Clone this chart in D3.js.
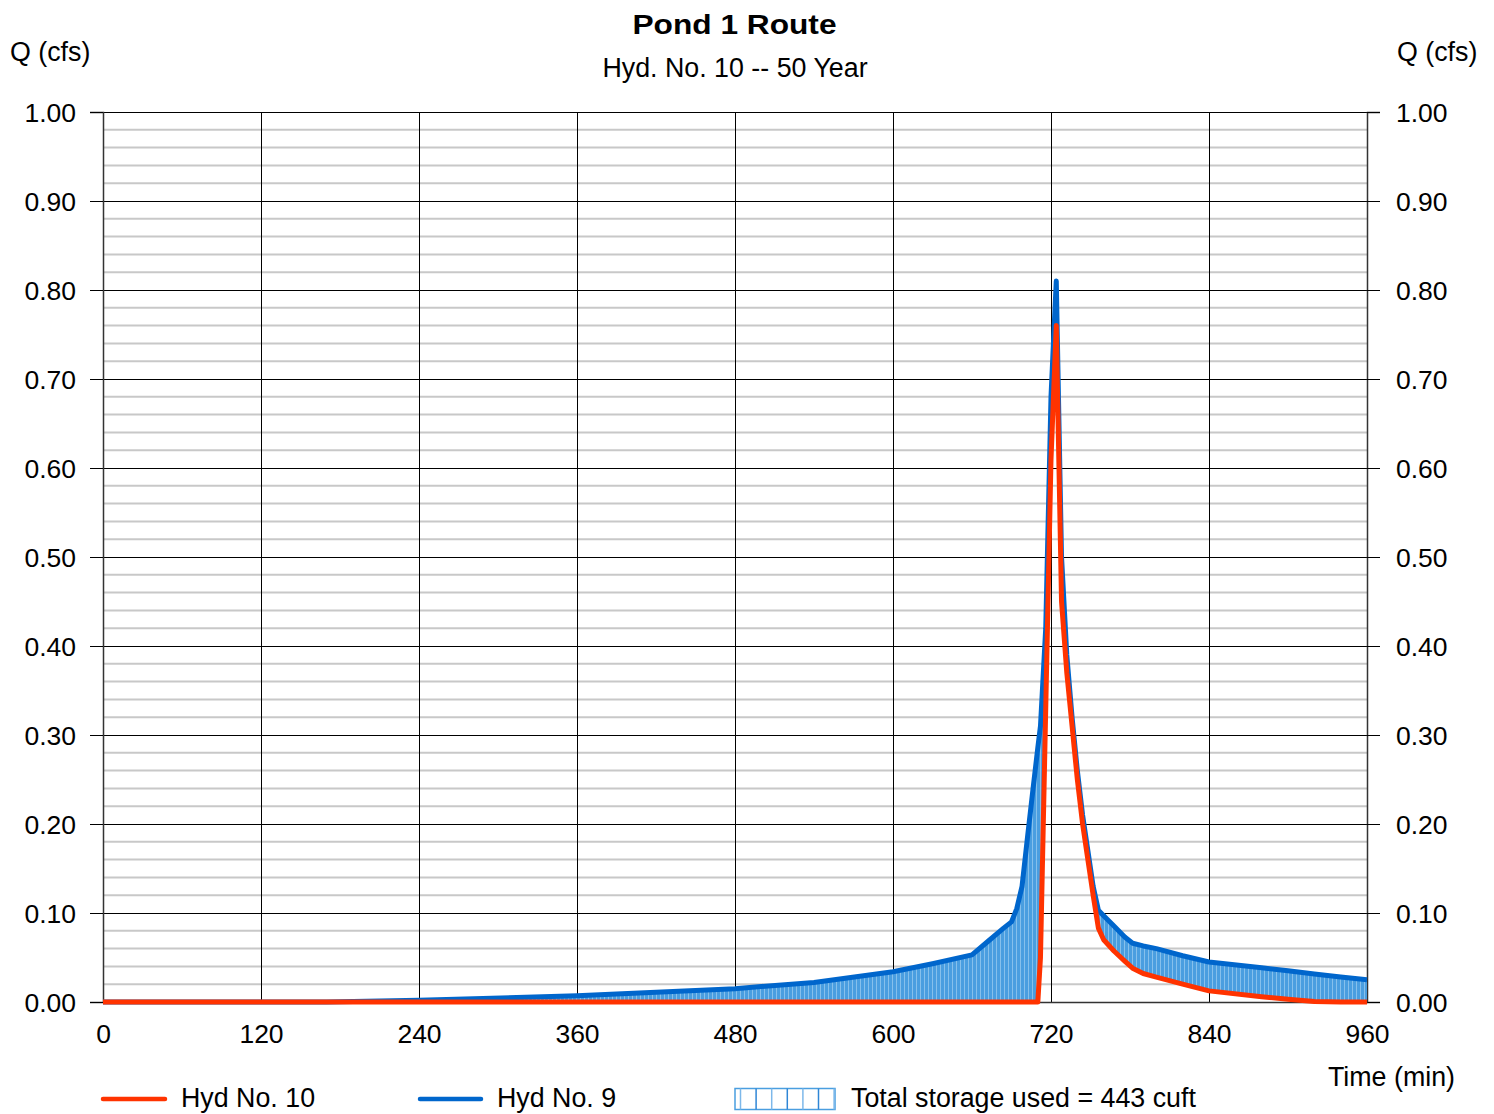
<!DOCTYPE html>
<html>
<head>
<meta charset="utf-8">
<script src="https://cdn.jsdelivr.net/npm/d3@7"></script>
<style>
  html, body { margin: 0; padding: 0; background: #fff; }
  svg { display: block; font-family: "Liberation Sans", Arial, sans-serif; }
</style>
</head>
<body>
<svg id="chart" width="1494" height="1114"></svg>
<script>
// Hydrograph time steps (min)
const timeMin = [0, 120, 170, 240, 360, 480, 540, 600, 630, 660, 672, 684, 690, 694, 698, 702, 706, 710, 712, 716,
  720, 724, 728, 732, 736, 740, 744, 748, 752, 756, 760, 768, 776, 782, 790, 800, 820, 840, 880, 900, 920, 940, 960];

// Hyd No. 9 – inflow to the pond (cfs)
const inflowQ = [0, 0, 0, 0.002, 0.007, 0.015, 0.022, 0.034, 0.043, 0.053, 0.068, 0.083, 0.090, 0.105, 0.130, 0.183, 0.235, 0.286, 0.31, 0.42,
  0.68, 0.81, 0.50, 0.39, 0.32, 0.26, 0.21, 0.17, 0.13, 0.103, 0.097, 0.085, 0.073, 0.066, 0.063, 0.060, 0.052, 0.045, 0.0385, 0.035, 0.0315, 0.028, 0.025];

// Hyd No. 10 – routed outflow (cfs)
const outflowQ = [0, 0, 0, 0, 0, 0, 0, 0, 0, 0, 0, 0, 0, 0, 0, 0, 0, 0, 0.05, 0.33,
  0.61, 0.76, 0.45, 0.37, 0.31, 0.25, 0.20, 0.16, 0.12, 0.083, 0.070, 0.057, 0.046, 0.038, 0.032, 0.028, 0.020, 0.0125, 0.006, 0.003, 0.0005, 0, 0];

const xTicks = [0, 120, 240, 360, 480, 600, 720, 840, 960];
const yMajorTicks = [0, 0.1, 0.2, 0.3, 0.4, 0.5, 0.6, 0.7, 0.8, 0.9, 1.0];
const yMinorTicks = d3.range(0, 1.0001, 0.02).filter(v => Math.abs(Math.round(v * 10) - v * 10) > 1e-6);

const titleText = "Pond 1 Route";
const subtitleText = "Hyd. No. 10 -- 50 Year";
const yAxisLabel = "Q (cfs)";
const xAxisLabel = "Time (min)";
const legendItems = ["Hyd No. 10", "Hyd No. 9", "Total storage used = 443 cuft"];

const data = timeMin.map((t, i) => ({ t, inQ: inflowQ[i], outQ: outflowQ[i] }));

const svg = d3.select("#chart");
const plotL = 103, plotR = 1367, plotT = 112, plotB = 1002;
const x = d3.scaleLinear().domain([0, 960]).range([plotL, plotR]);
const y = d3.scaleLinear().domain([0, 1]).range([plotB, plotT]);

const redC = "#ff3300", blueC = "#0066cc";
const textSize = 26.8;

// Striped fill for the storage region
const defs = svg.append("defs");
const pat = defs.append("pattern").attr("id", "storage").attr("patternUnits", "userSpaceOnUse")
  .attr("width", 4).attr("height", 10);
pat.append("rect").attr("width", 4).attr("height", 10).attr("fill", "#4a9ee0");
pat.append("rect").attr("x", 0).attr("width", 1).attr("height", 10).attr("fill", "#86c0ec");

// Minor horizontal grid
svg.append("g").selectAll("line").data(yMinorTicks).join("line")
  .attr("x1", plotL).attr("x2", plotR)
  .attr("y1", d => y(d)).attr("y2", d => y(d))
  .attr("stroke", "#c8c8c8").attr("stroke-width", 2);

// Vertical grid
svg.append("g").selectAll("line").data(xTicks).join("line")
  .attr("x1", d => x(d)).attr("x2", d => x(d))
  .attr("y1", plotT).attr("y2", plotB)
  .attr("stroke", "#000").attr("stroke-width", 1).attr("shape-rendering", "crispEdges");

// Major horizontal grid
svg.append("g").selectAll("line").data(yMajorTicks).join("line")
  .attr("x1", plotL).attr("x2", plotR)
  .attr("y1", d => y(d)).attr("y2", d => y(d))
  .attr("stroke", "#000").attr("stroke-width", 1).attr("shape-rendering", "crispEdges");

// Axes
const fmt = d3.format(".2f");
const axL = svg.append("g").attr("transform", `translate(${plotL},0)`)
  .call(d3.axisLeft(y).tickValues(yMajorTicks).tickFormat(fmt).tickSize(13).tickPadding(14));
const axR = svg.append("g").attr("transform", `translate(${plotR},0)`)
  .call(d3.axisRight(y).tickValues(yMajorTicks).tickFormat(fmt).tickSize(13).tickPadding(16));
const axB = svg.append("g").attr("transform", `translate(0,${plotB})`)
  .call(d3.axisBottom(x).tickValues(xTicks).tickFormat(d3.format("d")).tickSize(0).tickPadding(22));
[axL, axR, axB].forEach(g => {
  g.select(".domain").attr("stroke", "#333").attr("stroke-width", 1.5);
  g.selectAll(".tick line").attr("stroke", "#000").attr("shape-rendering", "crispEdges");
  g.selectAll("text").attr("font-size", 26.5).attr("fill", "#000")
    .attr("font-family", "'Liberation Sans', Arial, sans-serif");
});
axL.selectAll(".tick text").attr("dy", "0.35em");
axR.selectAll(".tick text").attr("dy", "0.35em");
axB.selectAll(".tick text").attr("dy", "0.71em");

// Storage area between inflow and outflow
svg.append("path").datum(data)
  .attr("fill", "url(#storage)")
  .attr("d", d3.area().x(d => x(d.t)).y0(d => y(Math.min(d.outQ, d.inQ))).y1(d => y(d.inQ)));

// Hydrograph lines
const line = key => d3.line().x(d => x(d.t)).y(d => y(d[key]));
svg.append("path").datum(data).attr("fill", "none").attr("stroke", blueC)
  .attr("stroke-width", 5).attr("stroke-linejoin", "round").attr("d", line("inQ"));
svg.append("path").datum(data).attr("fill", "none").attr("stroke", redC)
  .attr("stroke-width", 5).attr("stroke-linejoin", "round").attr("d", line("outQ"));

// Titles and axis labels
svg.append("text").attr("x", 734.5).attr("y", 34).attr("text-anchor", "middle")
  .attr("font-size", 27.5).attr("font-weight", "bold")
  .attr("textLength", 204).attr("lengthAdjust", "spacingAndGlyphs").text(titleText);
svg.append("text").attr("x", 735).attr("y", 77).attr("text-anchor", "middle")
  .attr("font-size", textSize).text(subtitleText);
svg.append("text").attr("x", 10).attr("y", 61).attr("font-size", textSize).text(yAxisLabel);
svg.append("text").attr("x", 1397).attr("y", 61).attr("font-size", textSize).text(yAxisLabel);
svg.append("text").attr("x", 1455).attr("y", 1086).attr("text-anchor", "end")
  .attr("font-size", textSize).text(xAxisLabel);

// Legend
const lg = svg.append("g").attr("font-size", textSize);
lg.append("line").attr("x1", 103).attr("x2", 165).attr("y1", 1099).attr("y2", 1099)
  .attr("stroke", redC).attr("stroke-width", 4.5).attr("stroke-linecap", "round");
lg.append("text").attr("x", 181).attr("y", 1107).text(legendItems[0]);
lg.append("line").attr("x1", 420).attr("x2", 481).attr("y1", 1099).attr("y2", 1099)
  .attr("stroke", blueC).attr("stroke-width", 4.5).attr("stroke-linecap", "round");
lg.append("text").attr("x", 497).attr("y", 1107).text(legendItems[1]);
const sw = lg.append("g");
sw.append("rect").attr("x", 735).attr("y", 1088.5).attr("width", 100).attr("height", 21)
  .attr("fill", "#fff").attr("stroke", "#4a9ee0").attr("stroke-width", 1.5);
sw.selectAll("line.v").data(d3.range(0, 7)).join("line").attr("class", "v")
  .attr("x1", i => 740.5 + i * 15.6).attr("x2", i => 740.5 + i * 15.6)
  .attr("y1", 1088.5).attr("y2", 1109.5)
  .attr("stroke", i => i % 2 ? "#2f86d6" : "#7db8ea").attr("stroke-width", 1.5);
lg.append("text").attr("x", 851).attr("y", 1107).text(legendItems[2]);
</script>
</body>
</html>
